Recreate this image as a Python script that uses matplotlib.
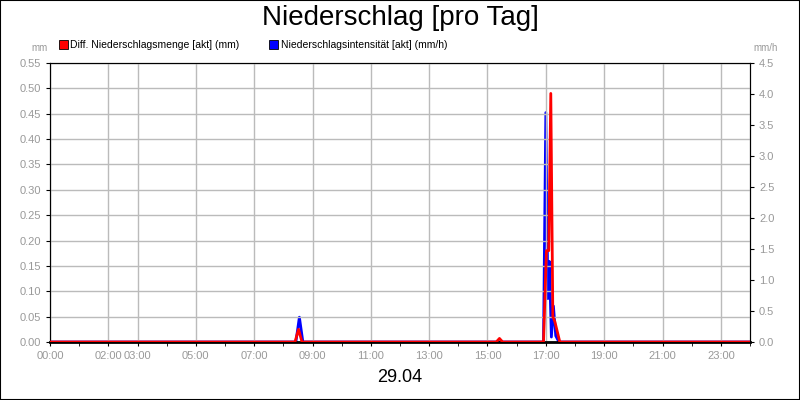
import matplotlib.pyplot as plt
from matplotlib.ticker import MultipleLocator

plt.rcParams['font.family'] = ['Liberation Sans', 'DejaVu Sans']

# Stunden (dezimal) und Werte
red_t = [0, 8.40, 8.52, 8.64, 15.30, 15.41, 15.52, 16.92, 17.02, 17.10, 17.17, 17.24, 17.31, 17.48, 24]
red_v = [0, 0, 0.025, 0, 0, 0.007, 0, 0, 0.18, 0.18, 0.49, 0.05, 0.04, 0, 0]
blue_t = [0, 8.43, 8.55, 8.67, 16.92, 17.0, 17.07, 17.12, 17.19, 17.26, 17.34, 17.45, 24]
blue_v = [0, 0, 0.40, 0, 0, 3.7, 0.7, 1.3, 0.08, 0.58, 0.1, 0, 0]
tick_hours = [0, 2, 3, 5, 7, 9, 11, 13, 15, 17, 19, 21, 23]
tick_labels = ['00:00', '02:00', '03:00', '05:00', '07:00', '09:00', '11:00',
               '13:00', '15:00', '17:00', '19:00', '21:00', '23:00']

fig = plt.figure(figsize=(8, 4), dpi=100)
fig.patches.append(plt.Rectangle((0, 0), 1, 1, transform=fig.transFigure,
                                 fill=False, edgecolor='black', lw=1.5))
ax = fig.add_axes([50 / 800, 58 / 400, 700 / 800, 279 / 400])
ax2 = ax.twinx()
gray = '#999999'

ax.plot(red_t, red_v, color='#ff0000', lw=2, zorder=3)
ax2.plot(blue_t, blue_v, color='#0000ff', lw=2, zorder=2)
ax.set_zorder(ax2.get_zorder() + 1)
ax.patch.set_visible(False)

ax.set_xlim(0, 24)
ax.set_ylim(0, 0.55)
ax2.set_ylim(0, 4.5)
ax.set_yticks([i * 0.05 for i in range(12)])
ax.set_yticklabels([f'{i * 0.05:.2f}' for i in range(12)])
ax2.set_yticks([i * 0.5 for i in range(10)])
ax2.set_yticklabels([f'{i * 0.5:.1f}' for i in range(10)])
ax.set_xticks(tick_hours)
ax.set_xticklabels(tick_labels)
ax.xaxis.set_minor_locator(MultipleLocator(1))
ax.grid(True, color='#bbbbbb', lw=1)
for a in (ax, ax2):
    a.tick_params(labelsize=8, labelcolor=gray, color='black', length=3)
ax.tick_params(axis='x', which='minor', length=3)
ax.spines['bottom'].set_linewidth(2)

fig.text(0.5, 0.955, 'Niederschlag [pro Tag]', ha='center', va='center', fontsize=20)
fig.text(0.5, 0.055, '29.04', ha='center', va='center', fontsize=13)
fig.text(40 / 800, 1 - 48 / 400, 'mm', fontsize=7, color=gray, ha='center', va='center')
fig.text(766 / 800, 1 - 48 / 400, 'mm/h', fontsize=7, color=gray, ha='center', va='center')

# Legende
fig.patches.append(plt.Rectangle((59 / 800, 1 - 49 / 400), 9 / 800, 9 / 400,
                                 transform=fig.transFigure, fc='#ff0000', ec='black', lw=0.6))
fig.text(70 / 800, 1 - 44.5 / 400, 'Diff. Niederschlagsmenge [akt] (mm)', fontsize=7.5, va='center')
fig.patches.append(plt.Rectangle((269 / 800, 1 - 49 / 400), 9 / 800, 9 / 400,
                                 transform=fig.transFigure, fc='#0000ff', ec='black', lw=0.6))
fig.text(281 / 800, 1 - 44.5 / 400, 'Niederschlagsintensität [akt] (mm/h)', fontsize=7.5, va='center')

fig.savefig('out.png', dpi=100)
